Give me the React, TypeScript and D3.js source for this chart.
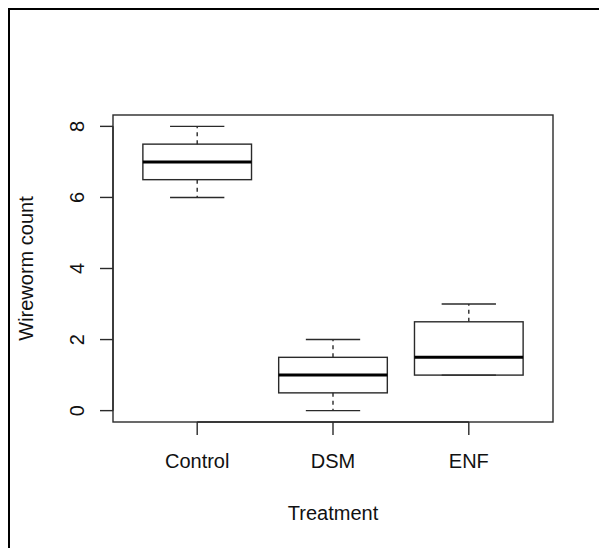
import React from "react";
import * as d3 from "d3";

const categories = ["Control", "DSM", "ENF"];
const mins = [6, 0, 1];
const q1s = [6.5, 0.5, 1];
const medians = [7, 1, 1.5];
const q3s = [7.5, 1.5, 2.5];
const maxs = [8, 2, 3];
const yTicks = [0, 2, 4, 6, 8];

const W = 599;
const H = 548;
const left = 113, right = 553, top = 115, bottom = 422;
const FONT = "'Liberation Sans', Arial, Helvetica, sans-serif";

export default function App() {
  const x = d3.scaleLinear().domain([0.38, 3.62]).range([left, right]);
  const y = d3.scaleLinear().domain([-0.32, 8.32]).range([bottom, top]);
  const boxHalf = x(0.4) - x(0);
  const capHalf = x(0.2) - x(0);
  const stroke = "#2a2a2a";
  const lw = 1.4;

  return (
    <svg
      width={W}
      height={H}
      style={{ position: "absolute", left: 0, top: 0, display: "block", background: "#fff" }}
    >
      <rect x={0} y={0} width={W} height={H} fill="#fff" />
      <rect x={9} y={9} width={W + 20} height={H + 20} fill="none" stroke="#000" strokeWidth={2} />

      {categories.map((c, i) => {
        const cx = x(i + 1);
        return (
          <g key={c}>
            {/* whiskers */}
            <line x1={cx} x2={cx} y1={y(q3s[i])} y2={y(maxs[i])} stroke={stroke} strokeWidth={lw} strokeDasharray="4,4" />
            <line x1={cx} x2={cx} y1={y(q1s[i])} y2={y(mins[i])} stroke={stroke} strokeWidth={lw} strokeDasharray="4,4" />
            <line x1={cx - capHalf} x2={cx + capHalf} y1={y(maxs[i])} y2={y(maxs[i])} stroke={stroke} strokeWidth={lw} />
            <line x1={cx - capHalf} x2={cx + capHalf} y1={y(mins[i])} y2={y(mins[i])} stroke={stroke} strokeWidth={lw} />
            {/* box */}
            <rect
              x={cx - boxHalf}
              y={y(q3s[i])}
              width={2 * boxHalf}
              height={y(q1s[i]) - y(q3s[i])}
              fill="none"
              stroke={stroke}
              strokeWidth={lw}
            />
            <line x1={cx - boxHalf} x2={cx + boxHalf} y1={y(medians[i])} y2={y(medians[i])} stroke="#000" strokeWidth={3} />
          </g>
        );
      })}

      {/* plot frame */}
      <rect x={left} y={top} width={right - left} height={bottom - top} fill="none" stroke={stroke} strokeWidth={lw} />

      {/* y axis */}
      <line x1={left} x2={left} y1={y(0)} y2={y(8)} stroke={stroke} strokeWidth={lw} />
      {yTicks.map((t) => (
        <g key={t}>
          <line x1={left - 13} x2={left} y1={y(t)} y2={y(t)} stroke={stroke} strokeWidth={lw} />
          <text
            transform={`translate(84, ${y(t)}) rotate(-90)`}
            textAnchor="middle"
            fontFamily={FONT}
            fontSize={20}
            fill="#111"
          >
            {t}
          </text>
        </g>
      ))}

      {/* x axis */}
      <line x1={x(1)} x2={x(3)} y1={bottom} y2={bottom} stroke={stroke} strokeWidth={lw} />
      {categories.map((c, i) => (
        <g key={c}>
          <line x1={x(i + 1)} x2={x(i + 1)} y1={bottom} y2={bottom + 13} stroke={stroke} strokeWidth={lw} />
          <text x={x(i + 1)} y={468} textAnchor="middle" fontFamily={FONT} fontSize={20} fill="#111">
            {c}
          </text>
        </g>
      ))}

      <text x={(left + right) / 2} y={520} textAnchor="middle" fontFamily={FONT} fontSize={20} fill="#111">
        Treatment
      </text>
      <text
        transform={`translate(33, ${(top + bottom) / 2}) rotate(-90)`}
        textAnchor="middle"
        fontFamily={FONT}
        fontSize={20}
        fill="#111"
      >
        Wireworm count
      </text>
    </svg>
  );
}
